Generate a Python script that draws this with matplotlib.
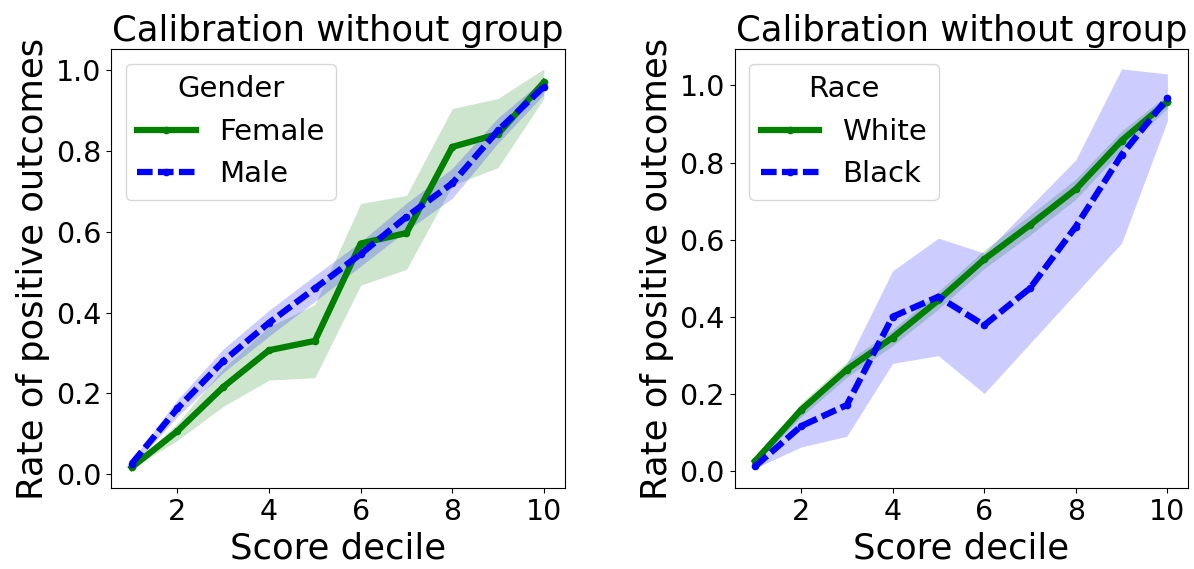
import numpy as np
from matplotlib import pyplot as plt

deciles = np.arange(1, 11)

# gender panel
female = [0.017, 0.107, 0.216, 0.307, 0.330, 0.571, 0.597, 0.810, 0.842, 0.970]
female_lo = [0.015, 0.084, 0.168, 0.233, 0.239, 0.468, 0.507, 0.715, 0.759, 0.930]
female_hi = [0.020, 0.126, 0.262, 0.365, 0.420, 0.670, 0.690, 0.905, 0.930, 1.003]
male = [0.026, 0.163, 0.280, 0.375, 0.460, 0.545, 0.637, 0.720, 0.851, 0.959]
male_lo = [0.018, 0.143, 0.252, 0.342, 0.428, 0.515, 0.603, 0.683, 0.820, 0.940]
male_hi = [0.034, 0.185, 0.310, 0.406, 0.492, 0.575, 0.671, 0.757, 0.882, 0.978]

# race panel
white = [0.026, 0.158, 0.263, 0.346, 0.443, 0.549, 0.638, 0.731, 0.857, 0.958]
white_lo = [0.020, 0.140, 0.243, 0.325, 0.420, 0.525, 0.612, 0.705, 0.832, 0.940]
white_hi = [0.032, 0.176, 0.283, 0.367, 0.466, 0.573, 0.664, 0.757, 0.882, 0.976]
black = [0.012, 0.116, 0.171, 0.400, 0.452, 0.378, 0.474, 0.634, 0.820, 0.967]
black_lo = [0.007, 0.062, 0.090, 0.279, 0.299, 0.201, 0.331, 0.461, 0.591, 0.909]
black_hi = [0.020, 0.149, 0.279, 0.519, 0.604, 0.565, 0.686, 0.807, 1.043, 1.030]

panels = [
    ('Gender', ('Female', female, female_lo, female_hi), ('Male', male, male_lo, male_hi)),
    ('Race', ('White', white, white_lo, white_hi), ('Black', black, black_lo, black_hi)),
]

fig, axes = plt.subplots(1, 2, figsize=(11.94, 5.69), dpi=100)
plt.subplots_adjust(left=0.093, right=0.995, top=0.914, bottom=0.142, wspace=0.375)

for ax, (group, g1, g2) in zip(axes, panels):
    name, y, lo, hi = g1
    ax.plot(deciles, y, color='green', linestyle='-', marker='.', markersize=9,
            linewidth=4.5, label=name)
    ax.fill_between(deciles, lo, hi, color='green', alpha=0.2, linewidth=0)
    name, y, lo, hi = g2
    ax.plot(deciles, y, color='blue', linestyle='--', dashes=(2.5, 0.85), marker='.',
            markersize=9, linewidth=4.5, label=name)
    ax.fill_between(deciles, lo, hi, color='blue', alpha=0.2, linewidth=0)
    ax.set_title('Calibration without group', fontsize=25.5)
    ax.set_xlabel('Score decile', fontsize=25.5)
    ax.set_ylabel('Rate of positive outcomes', fontsize=25.5)
    ax.tick_params(labelsize=20.5)
    ax.set_xticks([2, 4, 6, 8, 10])
    leg = ax.legend(title=group, fontsize=21, loc='upper left')
    leg.get_title().set_fontsize(21)

plt.savefig('out.png', dpi=100)
